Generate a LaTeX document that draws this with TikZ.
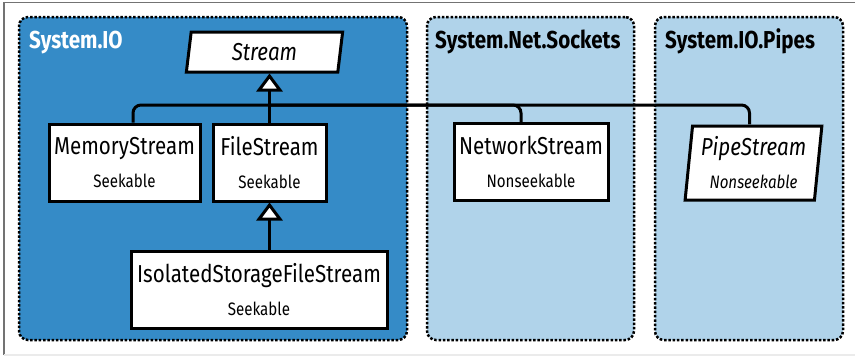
\documentclass[tikz,border=0pt]{standalone}
\usepackage{fontspec}
\setmainfont{Fira Sans}[FakeStretch=0.84]
\usetikzlibrary{arrows.meta}
\usetikzlibrary{shapes.geometric}
\definecolor{iodark}{HTML}{358BC7}
\definecolor{iolight}{HTML}{B0D3EA}
\newcommand{\bigtxt}{\fontsize{24.5}{26}\selectfont}
\newcommand{\smalltxt}{\fontsize{18}{20}\selectfont}
\newcommand{\headtxt}{\fontsize{24.5}{26}\selectfont\bfseries}
\begin{document}
\begin{tikzpicture}[x=1pt,y=-1pt]
    \tikzstyle{panel} = [draw, line width=2.5pt, dash pattern=on 2.5pt off 1.8pt, rounded corners=9pt, inner sep=0pt];
    \tikzstyle{head} = [anchor=base west, inner sep=0pt, font=\headtxt];
    \tikzstyle{cls} = [draw, line width=3pt, fill=white, inner sep=0pt, align=center, minimum height=77pt, font=\bigtxt];
    \tikzstyle{abstract} = [cls, trapezium, trapezium left angle=83, trapezium right angle=97, trapezium stretches=true];
    \tikzstyle{line} = [draw, line width=3pt];
    \tikzstyle{inherit} = [line, -{Triangle[open, length=18pt, width=26pt, fill=white]}];
    \useasboundingbox (0,0) rectangle (855,357);
    \draw[black!55, line width=1.5pt] (4,355) -- (4,2.5) -- (855,2.5);
    \draw[black!8, line width=1.5pt] (4,355) -- (855,355);
    % namespaces
    \node[panel, fill=iodark, minimum width=388pt, minimum height=323pt] (sysio) at (213,178.5) {};
    \node[panel, fill=iolight, minimum width=207pt, minimum height=323pt] (sockets) at (530.5,178.5) {};
    \node[panel, fill=iolight, minimum width=188pt, minimum height=323pt] (pipes) at (749,178.5) {};
    \node[head, text=white] (sysiolbl) at (29,48) {System.IO};
    \node[head] (socketslbl) at (435,48) {System.Net.Sockets};
    \node[head] (pipeslbl) at (665,48) {System.IO.Pipes};
    % classes
    \node[abstract, minimum width=157pt, minimum height=40pt] (stream) at (264.5,52) {\itshape Stream};
    \node[cls, minimum width=151pt] (mem) at (124.5,162.5) {MemoryStream\\[7pt]{\smalltxt Seekable}};
    \node[cls, minimum width=113pt] (file) at (269.5,162.5) {FileStream\\[7pt]{\smalltxt Seekable}};
    \node[cls, minimum width=256pt] (iso) at (259,289.5) {IsolatedStorageFileStream\\[7pt]{\smalltxt Seekable}};
    \node[cls, minimum width=154pt] (net) at (531,162) {NetworkStream\\[7pt]{\smalltxt Nonseekable}};
    \node[abstract, minimum width=137pt, minimum height=74pt] (pipe) at (753.5,163) {{\itshape PipeStream}\\[7pt]{\smalltxt\itshape Nonseekable}};
    % inheritance
    \coordinate (bus) at (270,105);
    \path[line, rounded corners=8pt] ([xshift=8.5pt]mem.north) |- (bus) -| ([xshift=-4pt]pipe.north);
    \path[line, rounded corners=8pt] (bus) -| ([xshift=-10pt]net.north);
    \path[inherit] (file.north) -- (file.north |- stream.south);
    \path[inherit] (iso.north -| file.south) -- (file.south);
\end{tikzpicture}
\end{document}
